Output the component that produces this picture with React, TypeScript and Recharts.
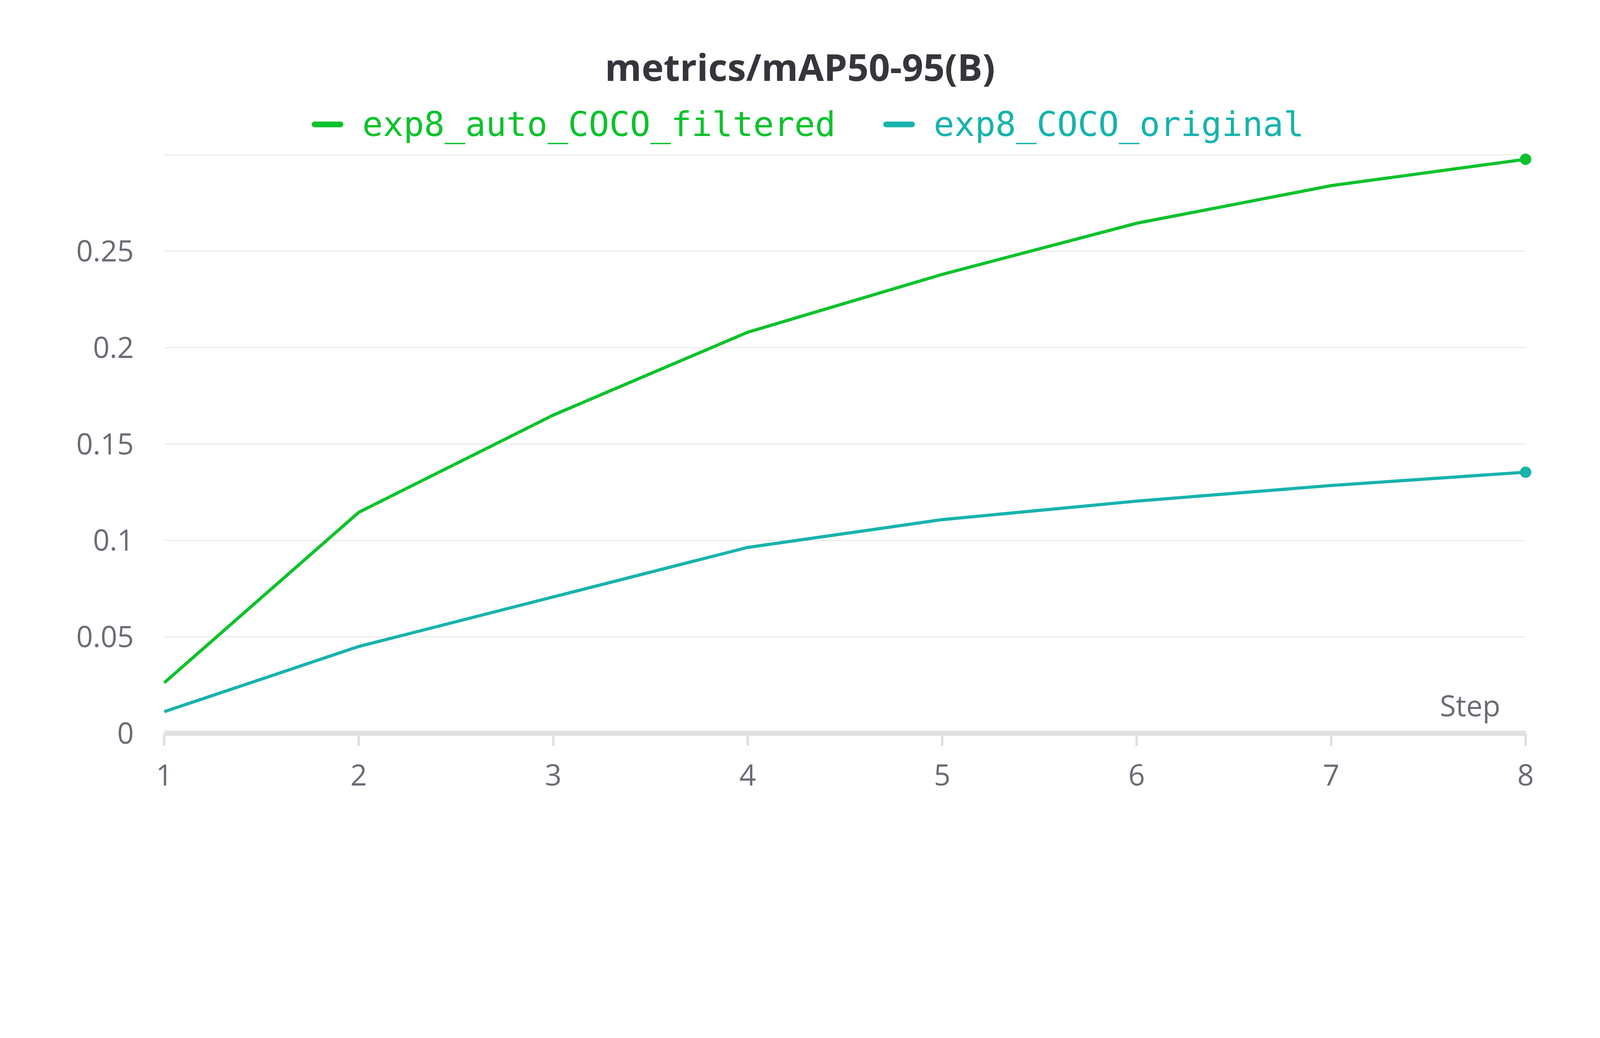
import { LineChart, Line, XAxis, YAxis, CartesianGrid } from "recharts";

const steps = [1, 2, 3, 4, 5, 6, 7, 8];
const filtered = [0.0262, 0.1146, 0.165, 0.208, 0.238, 0.2645, 0.284, 0.2977];
const original = [0.0112, 0.045, 0.0707, 0.0964, 0.1108, 0.1204, 0.1285, 0.1354];
const yTicks = [0, 0.05, 0.1, 0.15, 0.2, 0.25];

const GREEN = "#0cc22c";
const TEAL = "#17b3ad";
const data = steps.map((s, i) => ({ step: s, filtered: filtered[i], original: original[i] }));

const endDot = (color: string) => (p: any) =>
  p.index === steps.length - 1 ? (
    <circle key={p.index} cx={p.cx} cy={p.cy} r={18} fill={color} />
  ) : (
    <g key={p.index} />
  );

const tick = { fontSize: 92, fill: "#6b6b76", fontFamily: "Open Sans" };

export default function App() {
  // the page may have fewer css pixels than 5056 across; fit the drawing to it
  const k = typeof window !== "undefined" ? window.innerWidth / 5056 : 1;
  return (
    <div style={{ position: "absolute", left: 0, top: 0, width: 5056, height: 2656, background: "#fff", transform: `scale(${k})`, transformOrigin: "0 0" }}>
      <div style={{ position: "absolute", top: 130, width: 5056, textAlign: "center", fontFamily: "Open Sans", fontWeight: 700, fontSize: 118, color: "#35363b" }}>
        metrics/mAP50-95(B)
      </div>
      <div style={{ position: "absolute", top: 330, left: 985, display: "flex", alignItems: "center", fontFamily: "DejaVu Sans Mono", fontSize: 108 }}>
        <span style={{ width: 100, height: 18, background: GREEN, borderRadius: 9, marginRight: 60 }} />
        <span style={{ color: GREEN, marginRight: 150 }}>exp8_auto_COCO_filtered</span>
        <span style={{ width: 100, height: 18, background: TEAL, borderRadius: 9, marginRight: 60 }} />
        <span style={{ color: TEAL }}>exp8_COCO_original</span>
      </div>
      <div style={{ position: "absolute", left: 4550, top: 2165, fontFamily: "Open Sans", fontSize: 92, color: "#6b6b76" }}>Step</div>
      <LineChart width={5056} height={2656} data={data} margin={{ top: 489, left: 219, right: 235, bottom: 0 }}>
        <CartesianGrid vertical={false} stroke="#e8e8e8" strokeWidth={3} />
        <XAxis
          dataKey="step"
          type="number"
          domain={[1, 8]}
          ticks={steps}
          height={340}
          tick={tick}
          stroke="#e0e0e0"
          strokeWidth={16}
          tickLine={{ stroke: "#e0e0e0", strokeWidth: 8 }}
          tickSize={40}
          tickMargin={60}
        />
        <YAxis
          domain={[0, 0.3]}
          ticks={yTicks}
          width={300}
          tick={tick}
          axisLine={false}
          tickLine={false}
          tickMargin={90}
          tickFormatter={(v: number) => String(v)}
        />
        <Line dataKey="original" stroke={TEAL} strokeWidth={10} dot={endDot(TEAL)} activeDot={false} isAnimationActive={false} />
        <Line dataKey="filtered" stroke={GREEN} strokeWidth={10} dot={endDot(GREEN)} activeDot={false} isAnimationActive={false} />
      </LineChart>
    </div>
  );
}
